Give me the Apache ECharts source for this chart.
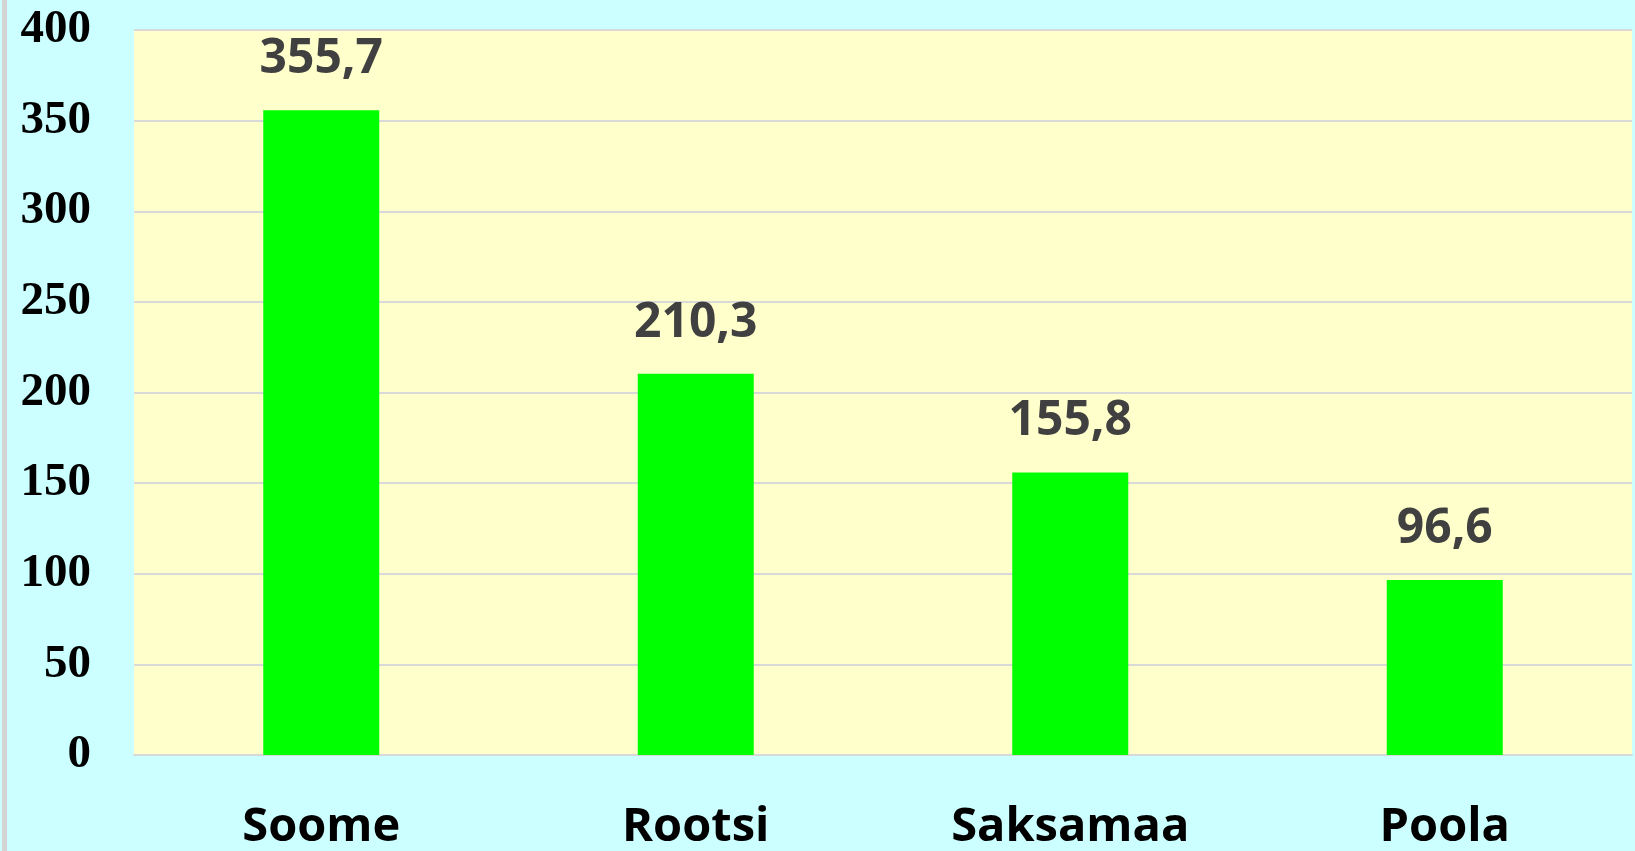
<!DOCTYPE html>
<html>
<head>
<meta charset="utf-8">
<script src="https://cdn.jsdelivr.net/npm/echarts@6/dist/echarts.min.js"></script>
<style>
  html, body { margin: 0; padding: 0; background: #ccffff; }
  #edge { position: absolute; left: 2px; top: 0; width: 5px; height: 851px; background: #d4d4d4; }
  #chart { width: 1635px; height: 851px; }
</style>
</head>
<body>
<div id="edge"></div>
<div id="chart"></div>
<script>
var countries = ["Soome", "Rootsi", "Saksamaa", "Poola"];
var amounts = [355.7, 210.3, 155.8, 96.6];
var yTicks = [0, 50, 100, 150, 200, 250, 300, 350, 400];

var myChart = echarts.init(document.getElementById("chart"));
var option = {
  backgroundColor: "transparent",
  animation: false,
  grid: {
    left: 134,
    right: 3,
    top: 30,
    bottom: 94,
    show: true,
    backgroundColor: "#ffffcc",
    borderWidth: 0,
  },
  xAxis: {
    type: "category",
    data: countries,
    axisLine: { lineStyle: { color: "#d9d9d9", width: 2 } },
    axisTick: { show: false },
    axisLabel: {
      margin: 49,
      color: "#000",
      fontFamily: "Open Sans",
      fontWeight: "bold",
      fontSize: 47,
      lineHeight: 47,
    },
  },
  yAxis: {
    type: "value",
    min: yTicks[0],
    max: yTicks[yTicks.length - 1],
    interval: 50,
    axisLine: { show: false },
    axisTick: { show: false },
    splitLine: { lineStyle: { color: "#d9d9d9", width: 2 } },
    axisLabel: {
      margin: 43,
      color: "#000",
      fontFamily: "Liberation Serif",
      fontWeight: "bold",
      fontSize: 47,
    },
  },
  series: [
    {
      type: "bar",
      data: amounts,
      barWidth: 116,
      itemStyle: { color: "#00ff00" },
      label: {
        show: true,
        position: "top",
        distance: 27,
        color: "#404040",
        fontFamily: "Open Sans",
        fontWeight: "bold",
        fontSize: 48,
        lineHeight: 48,
        formatter: function (p) {
          return String(p.value).replace(".", ",");
        },
      },
    },
  ],
};
option && myChart.setOption(option);
</script>
</body>
</html>
